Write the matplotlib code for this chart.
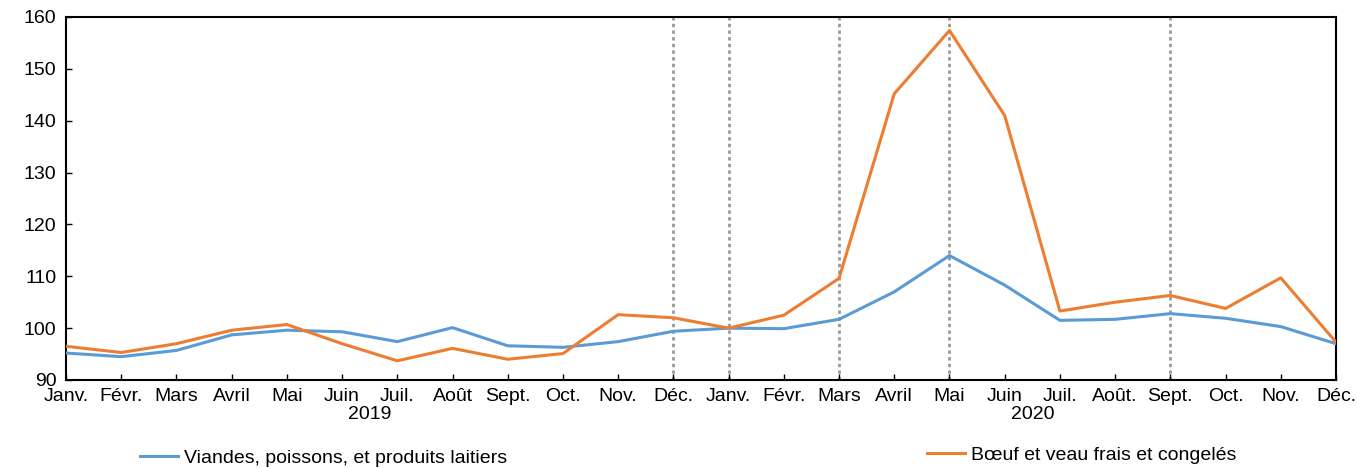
import matplotlib
matplotlib.use("Agg")
import matplotlib.pyplot as plt
import numpy as np

plt.rcParams['font.family'] = ['Liberation Sans Narrow', 'Liberation Sans', 'DejaVu Sans']

months = ["Janv.", "Févr.", "Mars", "Avril", "Mai", "Juin", "Juil.", "Août", "Sept.", "Oct.", "Nov.", "Déc.",
          "Janv.", "Févr.", "Mars", "Avril", "Mai", "Juin", "Juil.", "Août.", "Sept.", "Oct.", "Nov.", "Déc."]
years = ["2019", "2020"]

viandes = [95.2, 94.5, 95.7, 98.7, 99.6, 99.3, 97.4, 100.1, 96.6, 96.3, 97.4, 99.4,
           100.0, 99.9, 101.7, 107.0, 114.0, 108.3, 101.5, 101.7, 102.8, 101.9, 100.3, 97.0]
boeuf = [96.5, 95.3, 97.0, 99.6, 100.7, 97.0, 93.7, 96.1, 94.0, 95.1, 102.6, 102.0,
         100.0, 102.5, 109.6, 145.2, 157.4, 141.0, 103.3, 105.0, 106.3, 103.8, 109.7, 97.3]

# months marked by dotted vertical lines
marked = [11, 12, 14, 16, 20]

x = np.arange(len(months))

fig = plt.figure(figsize=(13.57, 4.68), dpi=100)
ax = fig.add_axes([66/1357, 88/468, 1270/1357, 363/468])

for m in marked:
    ax.axvline(m, color='#999999', linestyle=(0, (1.2, 1.2)), linewidth=2, zorder=1)

l1, = ax.plot(x, viandes, color='#5b9bd5', linewidth=2.2, zorder=3)
l2, = ax.plot(x, boeuf, color='#ed7d31', linewidth=2.2, zorder=3)

ax.set_xlim(0, len(months) - 1)
ax.set_ylim(90, 160)
ax.set_yticks(np.arange(90, 161, 10))
ax.set_xticks(x)
ax.set_xticklabels(months)
ax.tick_params(axis='both', direction='in', length=4, width=1, labelsize=14, colors='black')
ax.tick_params(axis='x', pad=6)
ax.tick_params(axis='y', pad=7)
for s in ax.spines.values():
    s.set_linewidth(1.5)
    s.set_color('black')

ax.text(5.5, -0.072, years[0], transform=ax.get_xaxis_transform(), ha='center', va='top', fontsize=14)
ax.text(17.5, -0.072, years[1], transform=ax.get_xaxis_transform(), ha='center', va='top', fontsize=14)

fig.legend([l1], ["Viandes, poissons, et produits laitiers"], loc='center left',
           bbox_to_anchor=(122/1357, 1 - 458/468), frameon=False, fontsize=14,
           handlelength=2.0, handletextpad=0.3)
fig.legend([l2], ["Bœuf et veau frais et congelés"], loc='center left',
           bbox_to_anchor=(909/1357, 1 - 455/468), frameon=False, fontsize=14,
           handlelength=2.0, handletextpad=0.3)

fig.savefig("out.png", dpi=100)
